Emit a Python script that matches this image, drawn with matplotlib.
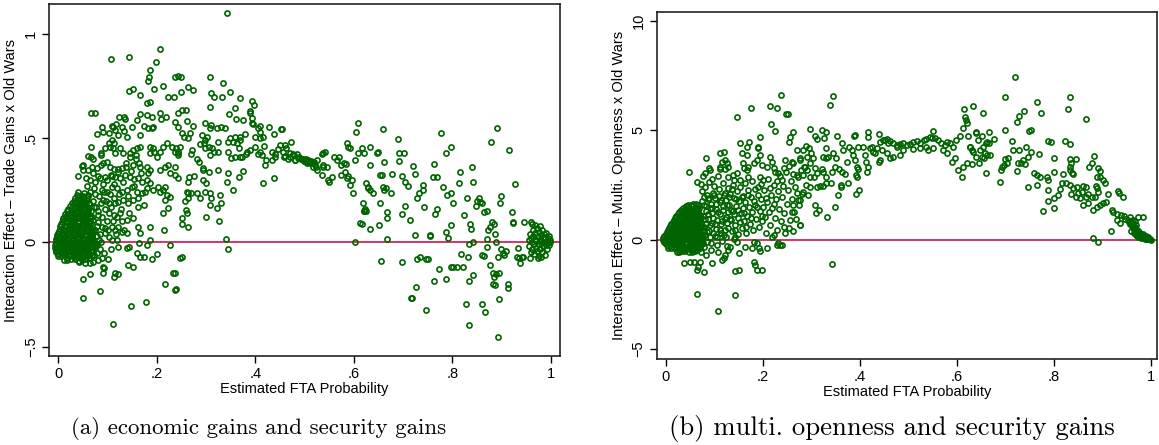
import numpy as np
import matplotlib
matplotlib.use('Agg')
import matplotlib.pyplot as plt

# ---------------- panel (a): trade gains x old wars ----------------
a_blob = [
    (0.012, -0.085), (0.025, -0.082), (0.041, -0.088), (0.055, -0.080),
    (0.006, -0.066), (0.019, -0.062), (0.031, -0.068), (0.046, -0.063), (0.060, -0.067), (0.072, -0.060),
    (0.002, -0.044), (0.014, -0.048), (0.026, -0.042), (0.037, -0.047), (0.051, -0.043), (0.066, -0.046),
    (-0.003, -0.024), (0.009, -0.027), (0.021, -0.022), (0.033, -0.026), (0.044, -0.023), (0.057, -0.028), (0.070, -0.022),
    (-0.005, -0.004), (0.006, -0.007), (0.017, -0.003), (0.028, -0.006), (0.039, -0.002), (0.050, -0.008), (0.062, -0.004), (0.074, -0.006),
    (-0.004, 0.016), (0.008, 0.013), (0.019, 0.017), (0.030, 0.012), (0.042, 0.018), (0.053, 0.014), (0.066, 0.016),
    (-0.002, 0.036), (0.010, 0.033), (0.022, 0.038), (0.034, 0.034), (0.045, 0.037), (0.057, 0.032), (0.069, 0.036),
    (0.001, 0.056), (0.013, 0.053), (0.025, 0.058), (0.036, 0.054), (0.048, 0.057), (0.060, 0.052), (0.072, 0.056),
    (0.004, 0.076), (0.015, 0.073), (0.027, 0.078), (0.039, 0.074), (0.051, 0.077), (0.063, 0.072),
    (0.007, 0.096), (0.018, 0.093), (0.030, 0.098), (0.042, 0.094), (0.054, 0.097), (0.066, 0.092),
    (0.010, 0.116), (0.021, 0.113), (0.033, 0.118), (0.045, 0.114), (0.057, 0.117),
    (0.014, 0.136), (0.025, 0.133), (0.037, 0.138), (0.049, 0.134), (0.061, 0.137),
    (0.020, 0.161), (0.031, 0.158), (0.043, 0.163), (0.055, 0.159),
    (0.027, 0.186), (0.039, 0.183), (0.050, 0.188), (0.063, 0.184),
    (0.033, 0.211), (0.045, 0.208), (0.058, 0.213),
    (0.040, 0.241), (0.052, 0.238),
]
a_blob2 = [
    (0.018, -0.075), (0.033, -0.073), (0.048, -0.077), (0.064, -0.074),
    (0.000, -0.055), (0.012, -0.052), (0.024, -0.057), (0.036, -0.054), (0.049, -0.056), (0.062, -0.051),
    (-0.004, -0.035), (0.008, -0.032), (0.020, -0.037), (0.031, -0.034), (0.043, -0.036), (0.055, -0.031), (0.068, -0.035),
    (-0.006, -0.015), (0.003, -0.012), (0.014, -0.017), (0.025, -0.014), (0.036, -0.016), (0.047, -0.011), (0.059, -0.015), (0.071, -0.013),
    (-0.005, 0.006), (0.002, 0.004), (0.013, 0.008), (0.024, 0.003), (0.036, 0.007), (0.047, 0.002), (0.059, 0.006), (0.071, 0.004),
    (-0.003, 0.026), (0.004, 0.024), (0.016, 0.028), (0.028, 0.023), (0.039, 0.027), (0.051, 0.022), (0.063, 0.026),
    (-0.001, 0.046), (0.007, 0.044), (0.019, 0.048), (0.031, 0.043), (0.042, 0.047), (0.054, 0.042), (0.066, 0.046),
    (0.003, 0.066), (0.010, 0.063), (0.021, 0.068), (0.033, 0.064), (0.045, 0.067), (0.057, 0.062), (0.069, 0.066),
    (0.006, 0.086), (0.013, 0.083), (0.024, 0.088), (0.036, 0.084), (0.048, 0.087), (0.060, 0.082),
    (0.009, 0.106), (0.016, 0.103), (0.027, 0.108), (0.039, 0.104), (0.051, 0.107), (0.063, 0.102),
    (0.015, 0.126), (0.028, 0.123), (0.040, 0.128), (0.052, 0.124), (0.064, 0.127),
    (0.018, 0.148), (0.026, 0.146), (0.038, 0.150), (0.049, 0.147), (0.060, 0.149),
    (0.024, 0.173), (0.035, 0.170), (0.046, 0.175), (0.058, 0.171),
    (0.031, 0.198), (0.042, 0.196), (0.053, 0.200),
    (0.037, 0.225), (0.049, 0.224), (0.060, 0.228),
]
a_blob3 = [
    (0.018, -0.084), (0.033, -0.081), (0.048, -0.086),
    (0.000, -0.064), (0.012, -0.063), (0.024, -0.067), (0.036, -0.064), (0.049, -0.066), (0.062, -0.062),
    (-0.004, -0.045), (0.008, -0.043), (0.020, -0.047), (0.031, -0.044), (0.043, -0.046), (0.055, -0.042), (0.068, -0.045),
    (-0.006, -0.025), (0.003, -0.023), (0.014, -0.027), (0.025, -0.024), (0.036, -0.026), (0.047, -0.021), (0.059, -0.025), (0.071, -0.023),
    (0.002, -0.005), (0.013, -0.002), (0.024, -0.007), (0.036, -0.003), (0.047, -0.006), (0.059, -0.004), (0.071, -0.002),
    (0.004, 0.015), (0.016, 0.018), (0.028, 0.013), (0.039, 0.017), (0.051, 0.012), (0.063, 0.016),
    (0.007, 0.035), (0.019, 0.038), (0.031, 0.033), (0.042, 0.037), (0.054, 0.032), (0.066, 0.036),
    (0.010, 0.055), (0.021, 0.058), (0.033, 0.054), (0.045, 0.057), (0.057, 0.052), (0.069, 0.056),
    (0.013, 0.075), (0.024, 0.078), (0.036, 0.074), (0.048, 0.077), (0.060, 0.072),
    (0.016, 0.095), (0.027, 0.098), (0.039, 0.094), (0.051, 0.097), (0.063, 0.092),
    (0.015, 0.116), (0.028, 0.113), (0.040, 0.118), (0.052, 0.114), (0.064, 0.117),
    (0.019, 0.137), (0.031, 0.135), (0.043, 0.139), (0.055, 0.136),
    (0.026, 0.160), (0.038, 0.162), (0.049, 0.159), (0.060, 0.161),
    (0.033, 0.186), (0.045, 0.184), (0.057, 0.187),
    (0.039, 0.211), (0.051, 0.210),
]
a_rise = [
    (0.107, 0.877), (0.144, 0.886), (0.207, 0.926), (0.198, 0.864), (0.186, 0.826), (0.184, 0.790), (0.182, 0.771),
    (0.144, 0.727), (0.151, 0.735), (0.165, 0.706), (0.194, 0.733), (0.212, 0.749), (0.180, 0.669), (0.186, 0.674),
    (0.223, 0.698), (0.234, 0.698), (0.066, 0.618), (0.075, 0.621), (0.088, 0.551), (0.108, 0.557), (0.117, 0.567),
    (0.123, 0.602), (0.133, 0.602), (0.135, 0.589), (0.165, 0.615), (0.179, 0.610), (0.190, 0.599), (0.207, 0.618),
    (0.219, 0.602), (0.209, 0.589), (0.149, 0.551), (0.140, 0.506), (0.166, 0.514), (0.160, 0.586), (0.173, 0.557),
    (0.183, 0.549), (0.190, 0.546), (0.193, 0.554), (0.078, 0.517), (0.091, 0.529), (0.102, 0.525), (0.110, 0.554),
    (0.115, 0.538), (0.122, 0.514), (0.133, 0.535), (0.129, 0.554), (0.066, 0.458), (0.087, 0.430), (0.086, 0.418),
    (0.095, 0.450), (0.105, 0.458), (0.112, 0.477), (0.108, 0.490), (0.102, 0.474), (0.110, 0.450), (0.115, 0.426),
    (0.125, 0.450), (0.132, 0.426), (0.146, 0.430), (0.152, 0.442), (0.160, 0.450), (0.166, 0.458), (0.158, 0.418),
    (0.146, 0.410), (0.186, 0.458), (0.193, 0.450), (0.186, 0.426), (0.194, 0.434), (0.200, 0.410), (0.207, 0.434),
    (0.213, 0.458), (0.220, 0.474), (0.230, 0.458), (0.239, 0.450), (0.244, 0.434), (0.242, 0.418),
    (0.039, 0.318), (0.047, 0.367), (0.051, 0.371), (0.061, 0.414), (0.066, 0.410), (0.071, 0.398),
    (0.051, 0.347), (0.061, 0.347), (0.068, 0.362), (0.078, 0.354), (0.086, 0.370), (0.091, 0.378), (0.098, 0.386),
    (0.104, 0.362), (0.112, 0.350), (0.122, 0.339), (0.129, 0.354), (0.138, 0.362), (0.151, 0.370), (0.163, 0.378),
    (0.166, 0.362), (0.179, 0.362), (0.186, 0.347), (0.183, 0.331), (0.207, 0.347), (0.217, 0.362), (0.223, 0.370),
    (0.227, 0.331), (0.237, 0.362), (0.064, 0.299), (0.075, 0.291), (0.085, 0.307), (0.095, 0.315), (0.106, 0.323),
    (0.115, 0.315), (0.125, 0.307), (0.135, 0.323), (0.146, 0.315), (0.154, 0.302), (0.161, 0.307), (0.169, 0.291),
    (0.179, 0.299), (0.186, 0.286), (0.193, 0.251), (0.203, 0.267), (0.207, 0.243), (0.213, 0.251), (0.217, 0.267),
    (0.220, 0.227), (0.217, 0.203), (0.227, 0.219), (0.223, 0.163), (0.213, 0.139), (0.088, 0.251), (0.098, 0.243),
    (0.108, 0.267), (0.119, 0.259), (0.129, 0.243), (0.139, 0.251), (0.149, 0.267), (0.159, 0.243), (0.169, 0.235),
    (0.176, 0.243), (0.091, 0.203), (0.102, 0.187), (0.112, 0.211), (0.122, 0.195), (0.132, 0.203), (0.142, 0.187),
    (0.151, 0.203), (0.161, 0.171), (0.102, 0.139), (0.112, 0.131), (0.119, 0.123), (0.125, 0.139), (0.129, 0.104),
    (0.139, 0.107), (0.152, 0.115), (0.108, 0.075), (0.115, 0.059), (0.122, 0.075), (0.129, 0.051), (0.139, 0.043),
    (0.161, 0.075), (0.166, 0.043), (0.186, 0.072), (0.215, 0.059), (0.227, -0.013), (0.071, 0.107), (0.081, 0.099),
    (0.088, 0.075), (0.095, 0.043), (0.102, 0.027), (0.108, 0.011), (0.119, 0.011), (0.122, -0.021), (0.139, -0.029),
    (0.144, -0.021), (0.159, -0.053), (0.166, -0.069), (0.173, -0.069), (0.163, -0.005), (0.179, -0.013), (0.186, 0.011),
    (0.191, -0.081), (0.200, -0.056), (0.051, -0.040), (0.061, -0.053), (0.068, -0.061), (0.078, -0.053), (0.081, -0.085),
    (0.088, -0.077), (0.064, -0.101), (0.041, -0.093), (0.054, -0.101), (0.070, -0.093), (0.090, -0.117), (0.092, -0.125),
    (0.090, -0.149), (0.115, -0.149), (0.112, -0.168), (0.122, -0.152), (0.142, -0.109), (0.152, -0.117), (0.050, -0.177),
    (0.064, -0.152), (0.084, -0.233), (0.049, -0.265), (0.148, -0.305), (0.177, -0.284), (0.110, -0.391), (0.217, -0.200),
    (0.232, -0.149), (0.239, -0.225),
    (0.055, 0.180), (0.060, 0.220), (0.066, 0.150), (0.070, 0.200), (0.072, 0.260), (0.076, 0.170), (0.080, 0.130),
    (0.083, 0.220), (0.058, 0.270), (0.064, 0.240), (0.074, 0.060), (0.078, 0.030), (0.082, 0.010), (0.068, 0.020),
    (0.076, -0.020), (0.085, -0.030), (0.095, 0.160), (0.098, 0.100), (0.090, 0.280), (0.080, 0.320), (0.057, 0.310),
    (0.070, 0.330),
]
a_extra = [
    (0.052, 0.020), (0.056, 0.090), (0.059, 0.140), (0.062, 0.190), (0.067, 0.050), (0.069, 0.120), (0.073, 0.170),
    (0.075, 0.230), (0.078, 0.080), (0.081, 0.150), (0.084, 0.040), (0.086, 0.190), (0.089, 0.120), (0.092, 0.240),
    (0.094, 0.070), (0.097, 0.200), (0.099, 0.300), (0.101, 0.060), (0.104, 0.230), (0.106, 0.170), (0.109, 0.320),
    (0.111, 0.100), (0.113, 0.280), (0.116, 0.190), (0.118, 0.040), (0.121, 0.350), (0.124, 0.230), (0.127, 0.160),
    (0.131, 0.290), (0.134, 0.060), (0.137, 0.380), (0.141, 0.220), (0.144, 0.140), (0.147, 0.340), (0.153, 0.270),
    (0.157, 0.400), (0.162, 0.210), (0.168, 0.330), (0.174, 0.180), (0.181, 0.260), (0.058, -0.020), (0.063, -0.075),
    (0.071, -0.040), (0.079, -0.010), (0.087, 0.000), (0.093, -0.050), (0.100, -0.080), (0.107, -0.030),
]
a_hump = [
    (0.342, 1.097), (0.237, 0.790), (0.242, 0.795), (0.249, 0.793), (0.307, 0.790), (0.334, 0.765), (0.263, 0.743),
    (0.274, 0.730), (0.249, 0.722), (0.310, 0.717), (0.317, 0.698), (0.332, 0.694), (0.349, 0.718), (0.369, 0.690),
    (0.393, 0.679), (0.398, 0.658), (0.308, 0.647), (0.358, 0.643), (0.389, 0.630), (0.389, 0.621), (0.347, 0.615),
    (0.251, 0.634), (0.259, 0.634), (0.244, 0.618), (0.361, 0.589), (0.376, 0.586), (0.394, 0.594), (0.394, 0.573),
    (0.396, 0.567), (0.237, 0.578), (0.244, 0.554), (0.261, 0.583), (0.274, 0.557), (0.298, 0.570), (0.311, 0.562),
    (0.308, 0.546), (0.323, 0.549), (0.330, 0.551), (0.339, 0.546), (0.410, 0.557), (0.427, 0.554), (0.406, 0.546),
    (0.410, 0.530), (0.453, 0.541), (0.439, 0.517), (0.251, 0.522), (0.268, 0.525), (0.256, 0.506), (0.264, 0.498),
    (0.291, 0.514), (0.301, 0.506), (0.297, 0.490), (0.295, 0.474), (0.288, 0.471), (0.324, 0.482), (0.344, 0.482),
    (0.349, 0.498), (0.358, 0.506), (0.368, 0.503), (0.369, 0.490), (0.362, 0.474), (0.354, 0.479), (0.379, 0.519),
    (0.399, 0.506), (0.409, 0.498), (0.416, 0.506), (0.418, 0.462), (0.237, 0.434), (0.244, 0.426), (0.247, 0.458),
    (0.269, 0.423), (0.272, 0.442), (0.281, 0.398), (0.286, 0.386), (0.293, 0.354), (0.305, 0.458), (0.313, 0.450),
    (0.298, 0.450), (0.308, 0.418), (0.317, 0.434), (0.325, 0.434), (0.345, 0.434), (0.351, 0.402), (0.358, 0.410),
    (0.366, 0.450), (0.369, 0.410), (0.372, 0.407), (0.381, 0.423), (0.383, 0.434), (0.389, 0.442), (0.400, 0.455),
    (0.410, 0.434), (0.413, 0.418), (0.405, 0.423), (0.433, 0.434), (0.440, 0.410), (0.447, 0.445), (0.421, 0.394),
    (0.433, 0.394), (0.440, 0.423), (0.419, 0.370), (0.439, 0.307), (0.237, 0.323), (0.244, 0.307), (0.265, 0.315),
    (0.276, 0.318), (0.264, 0.291), (0.293, 0.299), (0.299, 0.283), (0.305, 0.335), (0.293, 0.347), (0.324, 0.347),
    (0.345, 0.334), (0.366, 0.315), (0.375, 0.342), (0.354, 0.251), (0.342, 0.291), (0.416, 0.283), (0.261, 0.243),
    (0.264, 0.238), (0.270, 0.235), (0.258, 0.198), (0.264, 0.211), (0.281, 0.235), (0.288, 0.211), (0.297, 0.243),
    (0.307, 0.235), (0.310, 0.211), (0.307, 0.179), (0.329, 0.227), (0.330, 0.187), (0.323, 0.163), (0.261, 0.139),
    (0.252, 0.115), (0.252, 0.088), (0.263, 0.075), (0.259, 0.155), (0.299, 0.120), (0.326, 0.104), (0.340, 0.018),
    (0.345, -0.032), (0.237, -0.229), (0.237, -0.149), (0.247, -0.077), (0.251, -0.069),
]
a_ridge = [
    (0.460, 0.414), (0.466, 0.398), (0.471, 0.410), (0.478, 0.418), (0.484, 0.423), (0.489, 0.410), (0.494, 0.398),
    (0.500, 0.394), (0.504, 0.386), (0.508, 0.394), (0.511, 0.382), (0.516, 0.378), (0.520, 0.386), (0.525, 0.394),
    (0.498, 0.390), (0.502, 0.398), (0.506, 0.378), (0.513, 0.390), (0.486, 0.402), (0.480, 0.394),
    (0.454, 0.541), (0.450, 0.466), (0.460, 0.466), (0.462, 0.450), (0.457, 0.434), (0.458, 0.410), (0.472, 0.482),
    (0.470, 0.426), (0.477, 0.423), (0.481, 0.394), (0.492, 0.399), (0.496, 0.398), (0.501, 0.391), (0.510, 0.391),
    (0.518, 0.386), (0.521, 0.370), (0.523, 0.362), (0.526, 0.347), (0.518, 0.362), (0.535, 0.423), (0.537, 0.430),
    (0.542, 0.434), (0.537, 0.362), (0.535, 0.323), (0.545, 0.362), (0.538, 0.370), (0.550, 0.291), (0.548, 0.299),
    (0.555, 0.315), (0.559, 0.410), (0.565, 0.394), (0.571, 0.410), (0.575, 0.370), (0.580, 0.378), (0.584, 0.375),
    (0.575, 0.323), (0.582, 0.339), (0.586, 0.307), (0.589, 0.319), (0.596, 0.299), (0.592, 0.275), (0.586, 0.475),
    (0.589, 0.458), (0.592, 0.450), (0.598, 0.238), (0.603, 0.394), (0.605, 0.527), (0.609, 0.570), (0.609, 0.426),
    (0.616, 0.450), (0.620, 0.426), (0.613, 0.091), (0.616, 0.088), (0.603, 0.000), (0.618, 0.187), (0.620, 0.152),
    (0.621, 0.150), (0.623, 0.158), (0.625, 0.150), (0.625, 0.283), (0.628, 0.267), (0.628, 0.259), (0.632, 0.251),
    (0.632, 0.458), (0.633, 0.370), (0.633, 0.062), (0.640, 0.235), (0.647, 0.426), (0.650, 0.434),
]
a_tail = [
    (0.653, 0.323), (0.657, 0.323), (0.653, 0.190), (0.660, 0.267), (0.666, 0.259), (0.661, 0.251), (0.655, -0.090),
    (0.660, 0.541), (0.661, 0.386), (0.652, 0.083), (0.668, 0.147), (0.668, 0.115), (0.667, 0.014), (0.675, 0.235),
    (0.678, 0.326), (0.689, 0.493), (0.691, 0.426), (0.692, 0.391), (0.702, 0.426), (0.697, 0.319), (0.699, 0.134),
    (0.704, 0.174), (0.705, 0.291), (0.710, 0.270), (0.698, -0.096), (0.714, 0.107), (0.721, 0.367), (0.724, 0.326),
    (0.724, 0.035), (0.716, -0.265), (0.719, -0.265), (0.726, -0.216), (0.728, -0.080), (0.735, -0.069), (0.728, 0.211),
    (0.733, 0.235), (0.740, 0.251), (0.741, 0.275), (0.743, 0.171), (0.747, -0.080), (0.750, -0.080), (0.746, -0.324),
    (0.754, 0.035), (0.755, 0.030), (0.763, 0.375), (0.760, 0.315), (0.770, 0.315), (0.765, 0.134), (0.770, 0.158),
    (0.764, -0.184), (0.774, -0.129), (0.777, 0.525), (0.782, 0.267), (0.787, 0.430), (0.789, 0.227), (0.787, 0.051),
    (0.792, 0.019), (0.787, -0.177), (0.797, -0.117), (0.802, -0.117), (0.809, -0.120), (0.798, 0.235), (0.798, 0.458),
    (0.797, 0.083), (0.802, 0.187), (0.814, 0.283), (0.816, 0.339), (0.821, -0.120), (0.823, 0.131), (0.818, -0.056),
    (0.831, 0.214), (0.829, -0.295), (0.834, -0.396), (0.833, -0.072), (0.834, -0.010), (0.834, -0.185), (0.837, 0.088),
    (0.838, 0.062), (0.842, 0.003), (0.840, 0.362), (0.842, 0.291), (0.843, -0.156), (0.848, 0.174), (0.851, 0.200),
    (0.855, 0.211), (0.857, 0.195), (0.860, 0.187), (0.865, 0.147), (0.870, 0.152), (0.860, -0.061), (0.865, -0.065),
    (0.860, -0.295), (0.867, -0.335), (0.873, 0.059), (0.877, 0.075), (0.880, 0.099), (0.884, 0.088), (0.870, 0.014),
    (0.871, -0.024), (0.878, 0.483), (0.890, 0.549), (0.877, -0.109), (0.882, -0.145), (0.885, -0.164), (0.889, -0.152),
    (0.896, -0.149), (0.882, -0.200), (0.887, -0.204), (0.887, 0.040), (0.889, 0.003), (0.892, -0.069), (0.894, -0.452),
    (0.896, -0.272), (0.898, 0.190), (0.900, 0.224), (0.900, -0.034), (0.904, -0.050), (0.905, -0.061), (0.909, -0.040),
    (0.913, -0.200), (0.914, -0.220), (0.916, 0.442), (0.922, 0.147), (0.924, 0.099), (0.923, 0.094), (0.928, 0.280),
    (0.934, -0.029), (0.932, -0.069), (0.936, -0.077), (0.938, -0.101), (0.941, -0.069), (0.945, 0.099), (0.944, -0.072),
    (0.957, -0.077), (0.961, 0.099), (0.963, 0.086),
]
a_end = [
    (0.955, 0.010), (0.956, -0.020), (0.958, 0.040), (0.960, -0.045), (0.961, 0.020), (0.962, 0.000), (0.963, -0.030),
    (0.964, 0.060), (0.965, 0.030), (0.966, -0.010), (0.967, -0.055), (0.968, 0.015), (0.969, 0.045), (0.970, -0.025),
    (0.971, 0.005), (0.972, 0.070), (0.973, -0.040), (0.974, 0.025), (0.975, -0.010), (0.976, 0.050), (0.977, -0.065),
    (0.978, 0.010), (0.979, -0.030), (0.980, 0.035), (0.981, -0.005), (0.982, 0.060), (0.983, -0.045), (0.984, 0.020),
    (0.985, -0.020), (0.986, 0.040), (0.987, 0.000), (0.988, -0.060), (0.989, 0.025), (0.990, -0.015), (0.991, 0.045),
    (0.992, 0.005), (0.993, -0.030), (0.994, 0.020), (0.995, -0.005), (0.996, 0.030), (0.997, -0.015), (0.998, 0.010),
    (0.999, 0.000), (0.975, -0.075), (0.981, -0.070), (0.968, 0.085), (0.978, 0.080),
]

# ---------------- panel (b): multi. openness x old wars ----------------
b_blob = [
    (0.022, -0.55), (0.034, -0.53), (0.047, -0.56), (0.060, -0.54),
    (0.010, -0.37), (0.021, -0.35), (0.032, -0.38), (0.043, -0.36), (0.054, -0.39), (0.066, -0.36),
    (0.001, -0.19), (0.011, -0.17), (0.022, -0.20), (0.033, -0.18), (0.044, -0.21), (0.055, -0.18), (0.066, -0.20), (0.077, -0.17),
    (-0.006, -0.01), (0.004, 0.01), (0.014, -0.02), (0.025, 0.00), (0.036, -0.03), (0.047, 0.01), (0.058, -0.02), (0.069, 0.00),
    (-0.003, 0.17), (0.008, 0.19), (0.019, 0.16), (0.030, 0.18), (0.041, 0.15), (0.052, 0.19), (0.063, 0.16), (0.074, 0.18),
    (0.003, 0.35), (0.013, 0.37), (0.024, 0.34), (0.035, 0.36), (0.046, 0.33), (0.057, 0.37), (0.068, 0.34),
    (0.007, 0.53), (0.018, 0.55), (0.029, 0.52), (0.040, 0.54), (0.051, 0.51), (0.062, 0.55), (0.073, 0.52),
    (0.011, 0.71), (0.022, 0.73), (0.033, 0.70), (0.044, 0.72), (0.055, 0.69), (0.066, 0.73),
    (0.016, 0.89), (0.027, 0.91), (0.038, 0.88), (0.049, 0.90), (0.060, 0.87), (0.071, 0.91),
    (0.021, 1.07), (0.032, 1.09), (0.043, 1.06), (0.054, 1.08), (0.065, 1.05),
    (0.028, 1.25), (0.039, 1.27), (0.050, 1.24), (0.061, 1.26),
    (0.036, 1.43), (0.047, 1.45), (0.058, 1.42), (0.069, 1.44),
    (0.045, 1.60), (0.056, 1.62), (0.067, 1.59),
]
b_blob2 = [
    (0.028, -0.46), (0.040, -0.44), (0.053, -0.47), (0.065, -0.45),
    (0.005, -0.28), (0.016, -0.26), (0.027, -0.29), (0.038, -0.27), (0.049, -0.30), (0.060, -0.27), (0.071, -0.29),
    (-0.003, -0.10), (0.006, -0.08), (0.017, -0.11), (0.028, -0.09), (0.039, -0.12), (0.050, -0.09), (0.061, -0.11), (0.072, -0.08),
    (-0.005, 0.08), (0.002, 0.10), (0.013, 0.07), (0.024, 0.09), (0.035, 0.06), (0.046, 0.10), (0.057, 0.07), (0.068, 0.09),
    (0.000, 0.26), (0.008, 0.28), (0.019, 0.25), (0.030, 0.27), (0.041, 0.24), (0.052, 0.28), (0.063, 0.25), (0.074, 0.27),
    (0.005, 0.44), (0.013, 0.46), (0.024, 0.43), (0.035, 0.45), (0.046, 0.42), (0.057, 0.46), (0.068, 0.43),
    (0.009, 0.62), (0.017, 0.64), (0.028, 0.61), (0.039, 0.63), (0.050, 0.60), (0.061, 0.64), (0.072, 0.61),
    (0.014, 0.80), (0.022, 0.82), (0.033, 0.79), (0.044, 0.81), (0.055, 0.78), (0.066, 0.82),
    (0.019, 0.98), (0.027, 1.00), (0.038, 0.97), (0.049, 0.99), (0.060, 0.96), (0.071, 1.00),
    (0.025, 1.16), (0.037, 1.18), (0.048, 1.15), (0.059, 1.17), (0.070, 1.14),
    (0.032, 1.34), (0.044, 1.36), (0.055, 1.33), (0.066, 1.35),
    (0.041, 1.52), (0.052, 1.54), (0.063, 1.51),
]
b_blob3 = [
    (0.028, -0.55), (0.040, -0.54), (0.053, -0.55),
    (0.005, -0.37), (0.016, -0.36), (0.027, -0.38), (0.038, -0.37), (0.049, -0.38), (0.060, -0.36), (0.071, -0.37),
    (0.006, -0.19), (0.017, -0.20), (0.028, -0.18), (0.039, -0.21), (0.050, -0.19), (0.061, -0.20), (0.072, -0.18),
    (-0.001, -0.01), (0.009, -0.02), (0.020, 0.00), (0.031, -0.03), (0.042, 0.01), (0.053, -0.02), (0.064, 0.00),
    (0.003, 0.17), (0.013, 0.16), (0.024, 0.18), (0.035, 0.15), (0.046, 0.19), (0.057, 0.16), (0.068, 0.18),
    (0.008, 0.35), (0.019, 0.34), (0.030, 0.36), (0.041, 0.33), (0.052, 0.37), (0.063, 0.34),
    (0.013, 0.53), (0.024, 0.52), (0.035, 0.54), (0.046, 0.51), (0.057, 0.55), (0.068, 0.52),
    (0.017, 0.71), (0.028, 0.70), (0.039, 0.72), (0.050, 0.69), (0.061, 0.73), (0.072, 0.70),
    (0.022, 0.89), (0.033, 0.88), (0.044, 0.90), (0.055, 0.87), (0.066, 0.91),
    (0.027, 1.07), (0.038, 1.06), (0.049, 1.08), (0.060, 1.05), (0.070, 1.07),
    (0.034, 1.25), (0.045, 1.24), (0.056, 1.26), (0.066, 1.25),
    (0.042, 1.43), (0.053, 1.42), (0.064, 1.44),
    (0.051, 1.60), (0.062, 1.61),
]
b_rise = [
    (0.237, 6.61), (0.176, 6.00), (0.146, 5.62), (0.215, 6.10), (0.230, 6.00), (0.248, 5.72), (0.251, 5.72),
    (0.217, 5.27), (0.225, 4.98), (0.194, 4.70), (0.152, 4.43), (0.172, 4.48), (0.167, 4.25), (0.189, 4.25),
    (0.189, 4.17), (0.194, 3.87), (0.083, 3.72), (0.048, 3.11), (0.088, 3.26), (0.091, 3.18), (0.064, 2.65),
    (0.111, 3.94), (0.119, 4.02), (0.122, 3.64), (0.115, 3.56), (0.126, 3.49), (0.111, 3.21), (0.122, 3.21),
    (0.129, 3.33), (0.138, 2.95), (0.141, 2.73), (0.146, 3.03), (0.153, 2.73), (0.161, 3.26), (0.167, 3.18),
    (0.170, 3.33), (0.167, 3.87), (0.157, 3.94), (0.159, 3.49), (0.170, 2.88), (0.181, 3.49), (0.188, 3.64),
    (0.198, 3.41), (0.194, 2.88), (0.208, 3.33), (0.201, 2.73), (0.215, 3.79), (0.219, 3.56), (0.222, 3.26),
    (0.225, 3.11), (0.232, 3.03), (0.239, 2.73), (0.243, 3.26), (0.246, 3.64), (0.253, 3.37), (0.263, 3.49),
    (0.270, 2.95), (0.277, 3.64), (0.284, 3.33), (0.253, 4.48), (0.256, 4.70), (0.262, 4.93), (0.260, 3.56),
    (0.270, 4.10), (0.276, 3.72),
    (0.140, 0.017), (0.143, 0.139), (0.146, -0.09), (0.164, -0.32), (0.150, -0.62), (0.181, -0.09), (0.188, -0.166),
    (0.177, -0.39), (0.191, -0.39), (0.181, -1.00), (0.184, -1.15), (0.188, -1.38), (0.198, -1.38), (0.143, -1.41),
    (0.150, -1.38), (0.064, -2.48), (0.143, -2.53), (0.107, -3.24), (0.078, -1.49), (0.064, -1.38), (0.067, -1.23),
    (0.071, -1.00), (0.057, -1.00), (0.050, -1.00), (0.038, -1.08), (0.095, -1.08), (0.115, -0.93), (0.119, -0.85),
    (0.122, -0.70), (0.129, -0.47), (0.133, -0.32), (0.194, -0.50), (0.208, -0.39), (0.229, -0.24), (0.232, -0.166),
    (0.236, -0.24), (0.239, -0.24), (0.246, 0.29), (0.262, 0.41), (0.276, 0.66), (0.219, 0.139), (0.223, 0.215),
    (0.243, 0.595), (0.256, 0.90), (0.260, 1.28), (0.263, 1.58), (0.273, 1.81), (0.270, 2.12),
]
b_mid = [
    (0.072, 2.55), (0.075, 2.20), (0.078, 1.95), (0.081, 2.40), (0.074, 1.75), (0.079, 1.60), (0.083, 1.30),
    (0.077, 1.10), (0.086, 1.85), (0.088, 2.65), (0.084, 2.05), (0.090, 1.45), (0.087, 0.95), (0.082, 0.70),
    (0.076, 0.45), (0.080, 0.20), (0.085, -0.10), (0.078, -0.35), (0.089, 0.40), (0.091, 0.10), (0.073, -0.55),
    (0.083, -0.70), (0.092, -0.45), (0.094, 0.75), (0.096, 1.20), (0.093, 1.65), (0.097, 2.15), (0.099, 2.45),
    (0.095, 2.75), (0.101, 1.90), (0.103, 1.40), (0.105, 0.90), (0.104, 0.50), (0.102, 0.15), (0.106, -0.25),
    (0.108, -0.55), (0.109, 2.30), (0.111, 1.70), (0.112, 1.15), (0.113, 0.70), (0.114, 0.30), (0.116, -0.05),
    (0.118, 2.60), (0.119, 2.05), (0.117, 1.55), (0.121, 0.95), (0.122, 0.45), (0.124, 0.10), (0.125, -0.30),
    (0.123, 1.80), (0.127, 2.35), (0.128, 1.25), (0.126, 0.75), (0.129, 2.85), (0.111, 3.30), (0.107, 2.90),
    (0.131, 1.60), (0.133, 2.10), (0.134, 0.90), (0.136, 0.40), (0.138, 1.30), (0.139, 2.50), (0.141, 1.90),
    (0.142, 0.65), (0.144, 1.55), (0.146, 2.20), (0.148, 1.00), (0.149, 0.25), (0.151, 1.75), (0.153, 2.40),
    (0.155, 1.20), (0.156, 0.55), (0.158, 2.00), (0.159, 1.45), (0.161, 0.85), (0.163, 2.60), (0.164, 1.70),
    (0.166, 0.30), (0.168, 1.10), (0.169, 2.25), (0.171, 1.50), (0.173, 0.70), (0.175, 1.95), (0.177, 2.70),
    (0.178, 1.25), (0.180, 0.45), (0.182, 1.75), (0.184, 2.30), (0.186, 0.95), (0.187, 1.50), (0.189, 2.05),
    (0.191, 0.60), (0.193, 1.30), (0.195, 2.55), (0.197, 1.85), (0.199, 0.85), (0.201, 1.50), (0.203, 2.25),
    (0.205, 1.05), (0.207, 0.30), (0.209, 1.70), (0.211, 2.75), (0.213, 1.25), (0.215, 0.65), (0.217, 2.05),
    (0.219, 1.45), (0.222, 2.50), (0.224, 1.00), (0.227, 1.85), (0.229, 0.45), (0.231, 2.20), (0.233, 1.40),
    (0.236, 2.90), (0.238, 0.85), (0.240, 1.95), (0.242, 2.45), (0.244, 1.20), (0.247, 3.10), (0.249, 1.65),
    (0.252, 2.25), (0.254, 0.55), (0.257, 2.70), (0.259, 1.85), (0.262, 3.00), (0.264, 1.25), (0.267, 2.40),
    (0.269, 0.95), (0.272, 2.85), (0.274, 1.60), (0.278, 3.20), (0.280, 2.10),
]
b_extra = [
    (0.074, -0.20), (0.076, 0.10), (0.079, 0.60), (0.081, 0.95), (0.083, 1.55), (0.085, 0.35), (0.087, 1.15),
    (0.089, 1.90), (0.091, 0.65), (0.093, -0.15), (0.095, 1.45), (0.097, 0.30), (0.098, 1.00), (0.100, 2.05),
    (0.102, 0.70), (0.104, 1.65), (0.106, 0.10), (0.108, 1.25), (0.110, 2.00), (0.112, 0.45), (0.114, 1.80),
    (0.116, 0.85), (0.118, 1.35), (0.120, 0.20), (0.122, 2.15), (0.124, 1.05), (0.126, 1.60), (0.128, 0.55),
    (0.130, 1.95), (0.132, 0.95), (0.135, 1.35), (0.137, 2.30), (0.140, 1.15), (0.143, 0.45), (0.145, 1.85),
    (0.148, 1.35), (0.152, 0.80), (0.156, 1.95), (0.160, 1.20), (0.165, 0.60), (0.170, 2.05), (0.176, 1.00),
    (0.183, 1.60), (0.190, 2.40), (0.198, 1.10), (0.206, 1.90), (0.214, 2.35), (0.222, 1.65), (0.230, 2.70),
    (0.077, 2.90), (0.081, 3.05),
]
b_plateau = [
    (0.345, 6.56), (0.338, 6.15), (0.298, 5.06), (0.321, 5.01), (0.330, 4.93), (0.307, 4.71), (0.311, 4.58),
    (0.326, 4.63), (0.353, 4.71), (0.388, 4.71), (0.416, 4.90), (0.439, 4.83), (0.289, 4.28), (0.283, 4.10),
    (0.296, 4.17), (0.300, 3.94), (0.291, 3.79), (0.304, 3.72), (0.297, 3.49), (0.287, 3.34), (0.282, 2.96),
    (0.290, 3.18), (0.307, 3.26), (0.311, 3.03), (0.305, 2.85), (0.297, 2.88), (0.289, 2.50), (0.311, 2.42),
    (0.323, 2.47), (0.331, 2.57), (0.340, 2.60), (0.330, 2.88), (0.321, 3.21), (0.324, 3.79), (0.330, 4.17),
    (0.331, 3.72), (0.335, 3.79), (0.345, 3.94), (0.351, 3.72), (0.342, 3.11), (0.348, 3.34), (0.357, 3.21),
    (0.360, 2.50), (0.364, 3.11), (0.369, 3.00), (0.376, 2.60), (0.373, 3.56), (0.366, 4.10), (0.364, 4.40),
    (0.378, 4.25), (0.383, 4.10), (0.385, 3.87), (0.390, 3.64), (0.393, 3.34), (0.395, 3.21), (0.392, 2.96),
    (0.393, 2.85), (0.392, 2.09), (0.399, 2.27), (0.397, 4.25), (0.407, 4.22), (0.410, 3.87), (0.412, 3.56),
    (0.417, 3.34), (0.414, 3.11), (0.421, 4.17), (0.424, 4.25), (0.431, 3.94), (0.436, 4.17), (0.441, 4.48),
    (0.448, 4.55), (0.456, 4.58), (0.462, 4.52), (0.469, 4.40), (0.476, 4.32), (0.482, 4.37), (0.489, 4.40),
    (0.496, 4.32), (0.503, 4.37), (0.510, 4.48), (0.517, 4.52), (0.524, 4.43), (0.532, 4.55), (0.537, 4.60),
    (0.544, 4.68), (0.550, 4.98), (0.555, 4.63), (0.561, 4.55), (0.568, 4.40), (0.575, 4.32), (0.579, 4.48),
    (0.586, 4.40), (0.592, 4.25), (0.599, 4.55), (0.606, 4.71), (0.613, 5.09), (0.616, 5.59), (0.620, 5.34),
    (0.623, 4.71), (0.627, 4.25), (0.630, 4.10), (0.634, 6.10), (0.640, 4.86), (0.644, 4.55), (0.640, 3.79),
    (0.610, 2.88), (0.603, 3.18), (0.613, 3.34), (0.620, 3.49), (0.596, 3.72), (0.589, 3.56), (0.579, 3.94),
    (0.572, 4.10), (0.551, 4.17), (0.541, 4.10), (0.537, 4.25), (0.548, 4.63), (0.524, 4.17), (0.510, 4.13),
    (0.489, 4.10), (0.482, 3.87), (0.476, 4.25), (0.469, 3.79), (0.462, 3.72), (0.455, 3.94), (0.458, 4.40),
    (0.452, 4.55), (0.445, 4.10), (0.441, 3.64), (0.439, 3.56), (0.427, 4.02), (0.417, 4.67), (0.390, 4.78),
    (0.342, -1.11), (0.316, 1.36), (0.309, 1.20), (0.307, 1.58), (0.348, 1.51), (0.333, 1.05), (0.355, 2.04),
    (0.360, 2.42), (0.276, 1.81), (0.276, 0.67), (0.283, 2.19), (0.293, 2.04), (0.297, 2.42), (0.318, 2.47),
    (0.324, 3.11), (0.614, 5.95), (0.618, 5.45),
]
b_fall = [
    (0.720, 7.44), (0.698, 6.53), (0.834, 6.53), (0.828, 5.97), (0.764, 6.27), (0.773, 5.80), (0.738, 5.89),
    (0.728, 5.65), (0.723, 5.39), (0.653, 5.80), (0.866, 5.50), (0.749, 4.98), (0.753, 5.01), (0.698, 5.01),
    (0.639, 4.90), (0.667, 4.90), (0.652, 4.71), (0.661, 4.48), (0.666, 4.40), (0.676, 4.58), (0.714, 4.52),
    (0.788, 4.52), (0.793, 4.48), (0.823, 4.51), (0.832, 4.37), (0.627, 4.22), (0.634, 4.02), (0.654, 4.25),
    (0.660, 4.43), (0.669, 3.87), (0.647, 4.10), (0.658, 3.94), (0.651, 3.79), (0.656, 3.72), (0.661, 3.87),
    (0.632, 3.46), (0.646, 3.52), (0.659, 3.06), (0.689, 2.65), (0.690, 3.18), (0.692, 3.34), (0.696, 3.41),
    (0.704, 3.49), (0.699, 3.67), (0.706, 3.72), (0.716, 4.10), (0.728, 4.10), (0.726, 3.52), (0.733, 3.49),
    (0.737, 3.64), (0.740, 3.46), (0.742, 4.25), (0.747, 3.79), (0.753, 3.98), (0.723, 3.15), (0.770, 3.90),
    (0.799, 3.72), (0.833, 3.67), (0.835, 3.49), (0.834, 3.30), (0.832, 3.18), (0.838, 3.06), (0.845, 3.70),
    (0.840, 3.00), (0.759, 3.03), (0.764, 2.96), (0.772, 2.88), (0.785, 2.88), (0.788, 2.73), (0.799, 3.11),
    (0.818, 3.00), (0.825, 2.57), (0.833, 2.50), (0.840, 2.35), (0.847, 2.42), (0.850, 2.12), (0.859, 2.45),
    (0.867, 2.42), (0.871, 2.09), (0.857, 2.19), (0.865, 1.97), (0.853, 1.89), (0.845, 1.97), (0.836, 2.09),
    (0.816, 2.57), (0.812, 2.30), (0.809, 2.04), (0.799, 1.89), (0.788, 2.27), (0.747, 2.42), (0.764, 2.50),
    (0.777, 1.33), (0.787, 1.77), (0.799, 1.43), (0.872, 3.30), (0.878, 3.49), (0.882, 3.82), (0.895, 3.15),
    (0.891, 3.26), (0.895, 2.88), (0.888, 2.85), (0.902, 2.73), (0.905, 2.57), (0.887, 2.45), (0.888, 2.35),
    (0.891, 2.19), (0.884, 1.97), (0.878, 1.97), (0.871, 1.69), (0.860, 1.59), (0.881, 1.36), (0.888, 1.51),
    (0.895, 1.59), (0.902, 1.66), (0.908, 1.74), (0.912, 2.09), (0.932, 2.24), (0.935, 2.15), (0.943, 1.97),
    (0.919, 1.36), (0.922, 1.28), (0.929, 1.17), (0.939, 1.13), (0.944, 1.10), (0.929, 0.90), (0.936, 0.75),
    (0.946, 0.93), (0.957, 1.05), (0.963, 0.90), (0.974, 1.05), (0.983, 1.05), (0.917, 0.41), (0.881, 0.06),
    (0.890, -0.09),
]
b_end = [
    (0.953, 0.92), (0.955, 0.80), (0.957, 0.70), (0.958, 0.85), (0.960, 0.62), (0.961, 0.75), (0.962, 0.55),
    (0.963, 0.68), (0.965, 0.48), (0.966, 0.60), (0.967, 0.40), (0.968, 0.52), (0.970, 0.35), (0.971, 0.45),
    (0.972, 0.28), (0.973, 0.40), (0.975, 0.25), (0.976, 0.33), (0.977, 0.18), (0.978, 0.28), (0.980, 0.15),
    (0.981, 0.22), (0.982, 0.10), (0.983, 0.18), (0.985, 0.08), (0.986, 0.14), (0.987, 0.05), (0.988, 0.11),
    (0.990, 0.04), (0.991, 0.09), (0.992, 0.02), (0.994, 0.06), (0.995, 0.01), (0.997, 0.03), (0.999, 0.00),
    (0.964, 0.30), (0.969, 0.20), (0.974, 0.12), (0.979, 0.06), (0.959, 0.40), (0.984, 0.25), (0.989, 0.16),
    (0.993, 0.12), (0.970, 0.65), (0.966, 0.85),
]

x_ticks = [0, 0.2, 0.4, 0.6, 0.8, 1]
x_ticklabels = ['0', '.2', '.4', '.6', '.8', '1']
a_yticks = [-0.5, 0, 0.5, 1]
a_yticklabels = ['\u2212.5', '0', '.5', '1']
b_yticks = [-5, 0, 5, 10]
b_yticklabels = ['\u22125', '0', '5', '10']

green = '#006400'
red = '#d3124a'

plt.rcParams['font.family'] = ['Liberation Sans', 'DejaVu Sans']

fig = plt.figure(figsize=(11.59, 4.45), dpi=100)
ax1 = fig.add_axes([0.0423, 0.2, 0.4409, 0.791])
ax2 = fig.add_axes([0.5666, 0.194, 0.4317, 0.7798])


def draw(ax, segments, yticks, yticklabels, ylim, ylabel):
    pts = np.array([p for seg in segments for p in seg])
    ax.axhline(0, color=red, lw=1.2, zorder=1)
    ax.plot(pts[:, 0], pts[:, 1], 'o', ls='none', mfc='none', mec=green,
            ms=3.7, mew=1.2, zorder=2)
    ax.set_xlim(-0.019, 1.019)
    ax.set_ylim(*ylim)
    ax.set_xticks(x_ticks)
    ax.set_xticklabels(x_ticklabels)
    ax.set_yticks(yticks)
    ax.set_yticklabels(yticklabels, rotation=90, va='center')
    ax.tick_params(direction='out', length=5, width=1, labelsize=10.5, pad=3)
    for s in ax.spines.values():
        s.set_linewidth(1.2)
        s.set_color('#222222')
    ax.set_xlabel('Estimated FTA Probability', fontsize=10.5, labelpad=1)
    ax.set_ylabel(ylabel, fontsize=10.5, labelpad=4)


draw(ax1, [a_blob, a_blob2, a_blob3, a_rise, a_extra, a_hump, a_ridge, a_tail, a_end],
     a_yticks, a_yticklabels, (-0.545, 1.142),
     'Interaction Effect \u2013 Trade Gains x Old Wars')
draw(ax2, [b_blob, b_blob2, b_blob3, b_rise, b_mid, b_extra, b_plateau, b_fall, b_end],
     b_yticks, b_yticklabels, (-5.434, 10.41),
     'Interaction Effect \u2013 Multi. Openness x Old Wars')
ax2.set_xlim(-0.019, 1.0124)

fig.text(0.2235, 0.037, '(a) economic gains and security gains',
         family='cmr10', fontsize=16.5, ha='center', va='center')
fig.text(0.7697, 0.037, '(b) multi. openness and security gains',
         family='cmr10', fontsize=19.2, ha='center', va='center')

fig.savefig('out.png', dpi=100)
